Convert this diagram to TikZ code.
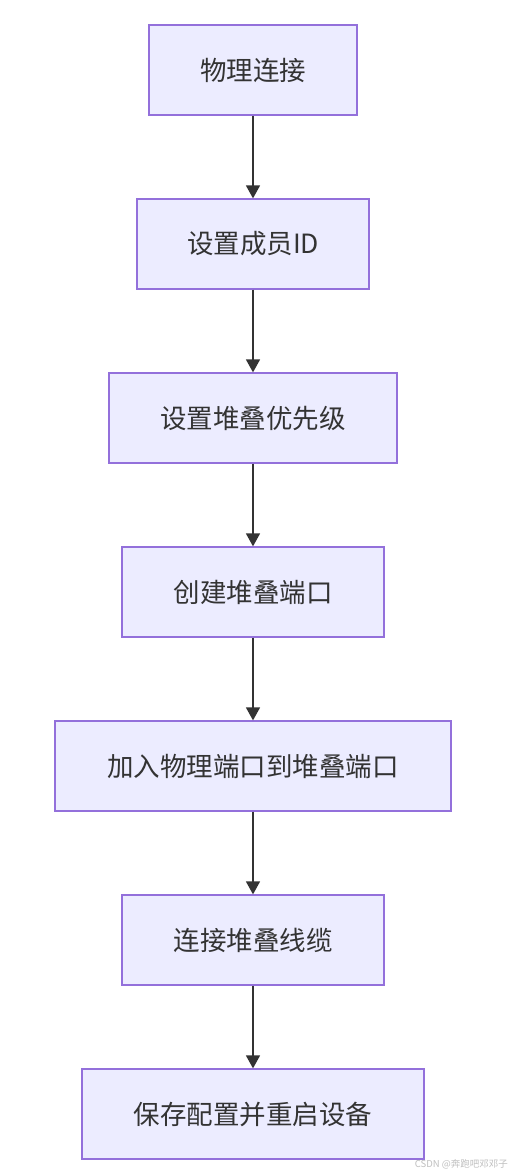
\documentclass[tikz,border=0pt]{standalone}
\usepackage{fontspec}
\newfontfamily\cjk{Noto Sans CJK SC}
\usetikzlibrary{arrows.meta}
\definecolor{boxfill}{HTML}{ECECFF}
\definecolor{boxline}{HTML}{9370DB}
\definecolor{ink}{HTML}{333333}
\tikzset{
  stepbox/.style={draw=boxline, line width=1.3pt, fill=boxfill, minimum height=90pt, inner sep=0pt, font=\cjk\fontsize{26.5}{30}\selectfont, text=ink},
  flow/.style={draw=ink, line width=1.6pt, -{Triangle[length=13pt,width=14pt]}}
}
\begin{document}
\begin{tikzpicture}[x=1pt,y=-1pt]
\useasboundingbox (0,0) rectangle (512,1173);
\fill[white] (0,0) rectangle (512,1173);
\node[stepbox, minimum width=208pt] (a) at (253,70) {物理连接};
\node[stepbox, minimum width=232pt] (b) at (253,244) {设置成员ID};
\node[stepbox, minimum width=288pt] (c) at (253,418) {设置堆叠优先级};
\node[stepbox, minimum width=262pt] (d) at (253,592) {创建堆叠端口};
\node[stepbox, minimum width=396pt] (e) at (253,766) {加入物理端口到堆叠端口};
\node[stepbox, minimum width=262pt] (f) at (253,940) {连接堆叠线缆};
\node[stepbox, minimum width=342pt] (g) at (253,1114) {保存配置并重启设备};
\draw[flow] (a) -- (b);
\draw[flow] (b) -- (c);
\draw[flow] (c) -- (d);
\draw[flow] (d) -- (e);
\draw[flow] (e) -- (f);
\draw[flow] (f) -- (g);
\node[anchor=east, inner sep=0pt, text=black!25, font=\cjk\fontsize{9.5}{10}\selectfont] (wm) at (508,1164) {CSDN @奔跑吧邓邓子};
\end{tikzpicture}
\end{document}
